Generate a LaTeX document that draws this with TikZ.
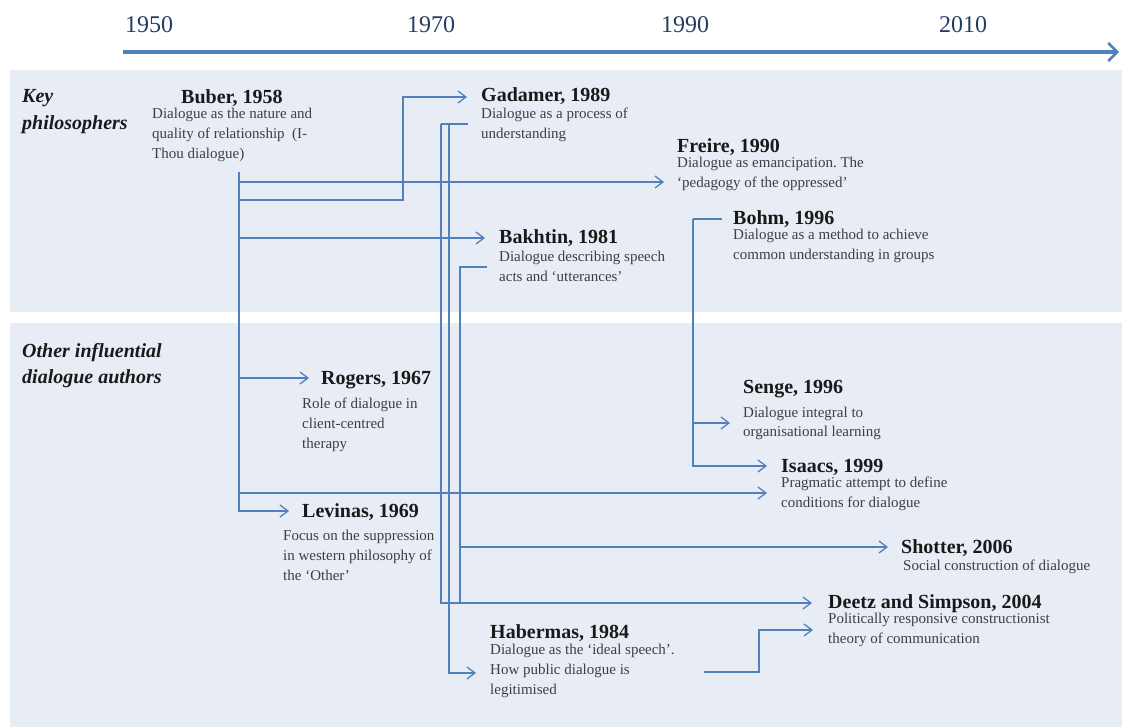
\documentclass[tikz,border=0pt]{standalone}
\usepackage{fontspec}
\setmainfont{Liberation Serif}
\usetikzlibrary{arrows.meta}
\definecolor{lineblue}{RGB}{79,129,189}
\definecolor{bandcol}{RGB}{232,237,245}
\definecolor{yearcol}{RGB}{38,60,100}
\definecolor{titlecol}{RGB}{25,25,25}
\definecolor{desccol}{RGB}{62,62,62}
\newcommand{\dlines}[1]{\begin{tabular}[t]{@{}l@{}}#1\end{tabular}}
\frenchspacing
\begin{document}
\begin{tikzpicture}[x=1pt,y=-1pt,
  ttl/.style={anchor=base west, inner sep=0pt, font=\fontsize{20}{24}\selectfont\bfseries, text=titlecol},
  dsc/.style={anchor=base west, inner sep=0pt, font=\fontsize{15}{20}\selectfont, text=desccol},
  yr/.style={inner sep=0pt, font=\fontsize{24}{28}\selectfont, text=yearcol},
  cat/.style={anchor=base west, inner sep=0pt, text=titlecol},
  conn/.style={draw=lineblue, line width=1.3pt},
  arr/.style={conn, -{Straight Barb[length=8pt,width=12pt]}}]
\useasboundingbox (0,0) rectangle (1122,727);
\fill[white] (0,0) rectangle (1122,727);
% bands
\fill[bandcol] (10,70) rectangle (1122,312);
\fill[bandcol] (10,323) rectangle (1122,727);
% timeline
\node[yr] (y1950) at (149,25) {1950};
\node[yr] (y1970) at (431,25) {1970};
\node[yr] (y1990) at (685,25) {1990};
\node[yr] (y2010) at (963,25) {2010};
\coordinate (tlS) at (123,52);
\coordinate (tlE) at (1119,52);
\draw[draw=lineblue, line width=3.3pt, -{Straight Barb[length=9pt,width=18pt,line width=2.6pt]}] (tlS) -- (tlE);
% category labels
\node[cat, font=\fontsize{20}{27}\selectfont\bfseries\itshape] (catkey) at (22,103) {\dlines{Key\\philosophers}};
\node[cat, font=\fontsize{20}{26}\selectfont\bfseries\itshape] (catother) at (22,357) {\dlines{Other influential\\dialogue authors}};
% entries
\node[ttl] (buber) at (181,104) {Buber, 1958};
\node[dsc] (buberd) at (152,119) {\dlines{Dialogue as the nature and\\quality of relationship\ \ (I-\\Thou dialogue)}};
\node[ttl] (gadamer) at (481,102) {Gadamer, 1989};
\node[dsc] (gadamerd) at (481,119) {\dlines{Dialogue as a process of\\understanding}};
\node[ttl] (freire) at (677,153) {Freire, 1990};
\node[dsc] (freired) at (677,168) {\dlines{Dialogue as emancipation. The\\‘pedagogy of the oppressed’}};
\node[ttl] (bakhtin) at (499,244) {Bakhtin, 1981};
\node[dsc] (bakhtind) at (499,262) {\dlines{Dialogue describing speech\\acts and ‘utterances’}};
\node[ttl] (bohm) at (733,225) {Bohm, 1996};
\node[dsc] (bohmd) at (733,240) {\dlines{Dialogue as a method to achieve\\common understanding in groups}};
\node[ttl] (rogers) at (321,384) {Rogers, 1967};
\node[dsc] (rogersd) at (302,408) {\dlines{Role of dialogue in\\client-centred\\therapy}};
\node[ttl] (levinas) at (302,517) {Levinas, 1969};
\node[dsc] (levinasd) at (283,540) {\dlines{Focus on the suppression\\in western philosophy of\\the ‘Other’}};
\node[ttl] (senge) at (743,393) {Senge, 1996};
\node[dsc] (senged) at (743,417) {\dlines{Dialogue integral to\\organisational learning}};
\node[ttl] (isaacs) at (781,472) {Isaacs, 1999};
\node[dsc] (isaacsd) at (781,487) {\dlines{Pragmatic attempt to define\\conditions for dialogue}};
\node[ttl] (shotter) at (901,553) {Shotter, 2006};
\node[dsc] (shotterd) at (903,570) {\dlines{Social construction of dialogue}};
\node[ttl] (deetz) at (828,608) {Deetz and Simpson, 2004};
\node[dsc] (deetzd) at (828,623) {\dlines{Politically responsive constructionist\\theory of communication}};
\node[ttl] (habermas) at (490,638) {Habermas, 1984};
\node[dsc] (habermasd) at (490,654) {\dlines{Dialogue as the ‘ideal speech’.\\How public dialogue is\\legitimised}};
% connector points
\coordinate (bTop) at (239,172);
\coordinate (freIn) at (664,182);
\coordinate (gadTurn) at (403,200);
\coordinate (gadIn) at (467,97);
\coordinate (bakIn) at (485,238);
\coordinate (rogIn) at (309,378);
\coordinate (isaInB) at (767,493);
\coordinate (levIn) at (289,511);
\coordinate (gadOut) at (468,124);
\coordinate (gA) at (441,124);
\coordinate (gB) at (449,124);
\coordinate (deeInA) at (812,603);
\coordinate (habIn) at (476,673);
\coordinate (bakOut) at (487,267);
\coordinate (bkV) at (460,267);
\coordinate (shoIn) at (888,547);
\coordinate (bohOut) at (722,219);
\coordinate (bhV) at (693,219);
\coordinate (isaInA) at (767,466);
\coordinate (senIn) at (730,423);
\coordinate (habOut) at (704,672);
\coordinate (hdTurn) at (759,672);
\coordinate (deeInB) at (813,630);
% Buber
\draw[arr] (bTop) |- (levIn);
\draw[arr] (bTop |- freIn) -- (freIn);
\draw[arr] (bTop |- gadTurn) -- (gadTurn) |- (gadIn);
\draw[arr] (bTop |- bakIn) -- (bakIn);
\draw[arr] (bTop |- rogIn) -- (rogIn);
\draw[arr] (bTop |- isaInB) -- (isaInB);
% Gadamer
\draw[conn] (gadOut) -- (gA);
\draw[arr] (gA) |- (deeInA);
\draw[arr] (gB) |- (habIn);
% Bakhtin
\draw[arr] (bakOut) -- (bkV) |- (shoIn);
\draw[conn] (bkV) -- (bkV |- deeInA);
% Bohm
\draw[conn] (bohOut) -- (bhV);
\draw[arr] (bhV) |- (isaInA);
\draw[arr] (bhV |- senIn) -- (senIn);
% Habermas
\draw[arr] (habOut) -- (hdTurn) |- (deeInB);
\end{tikzpicture}
\end{document}
